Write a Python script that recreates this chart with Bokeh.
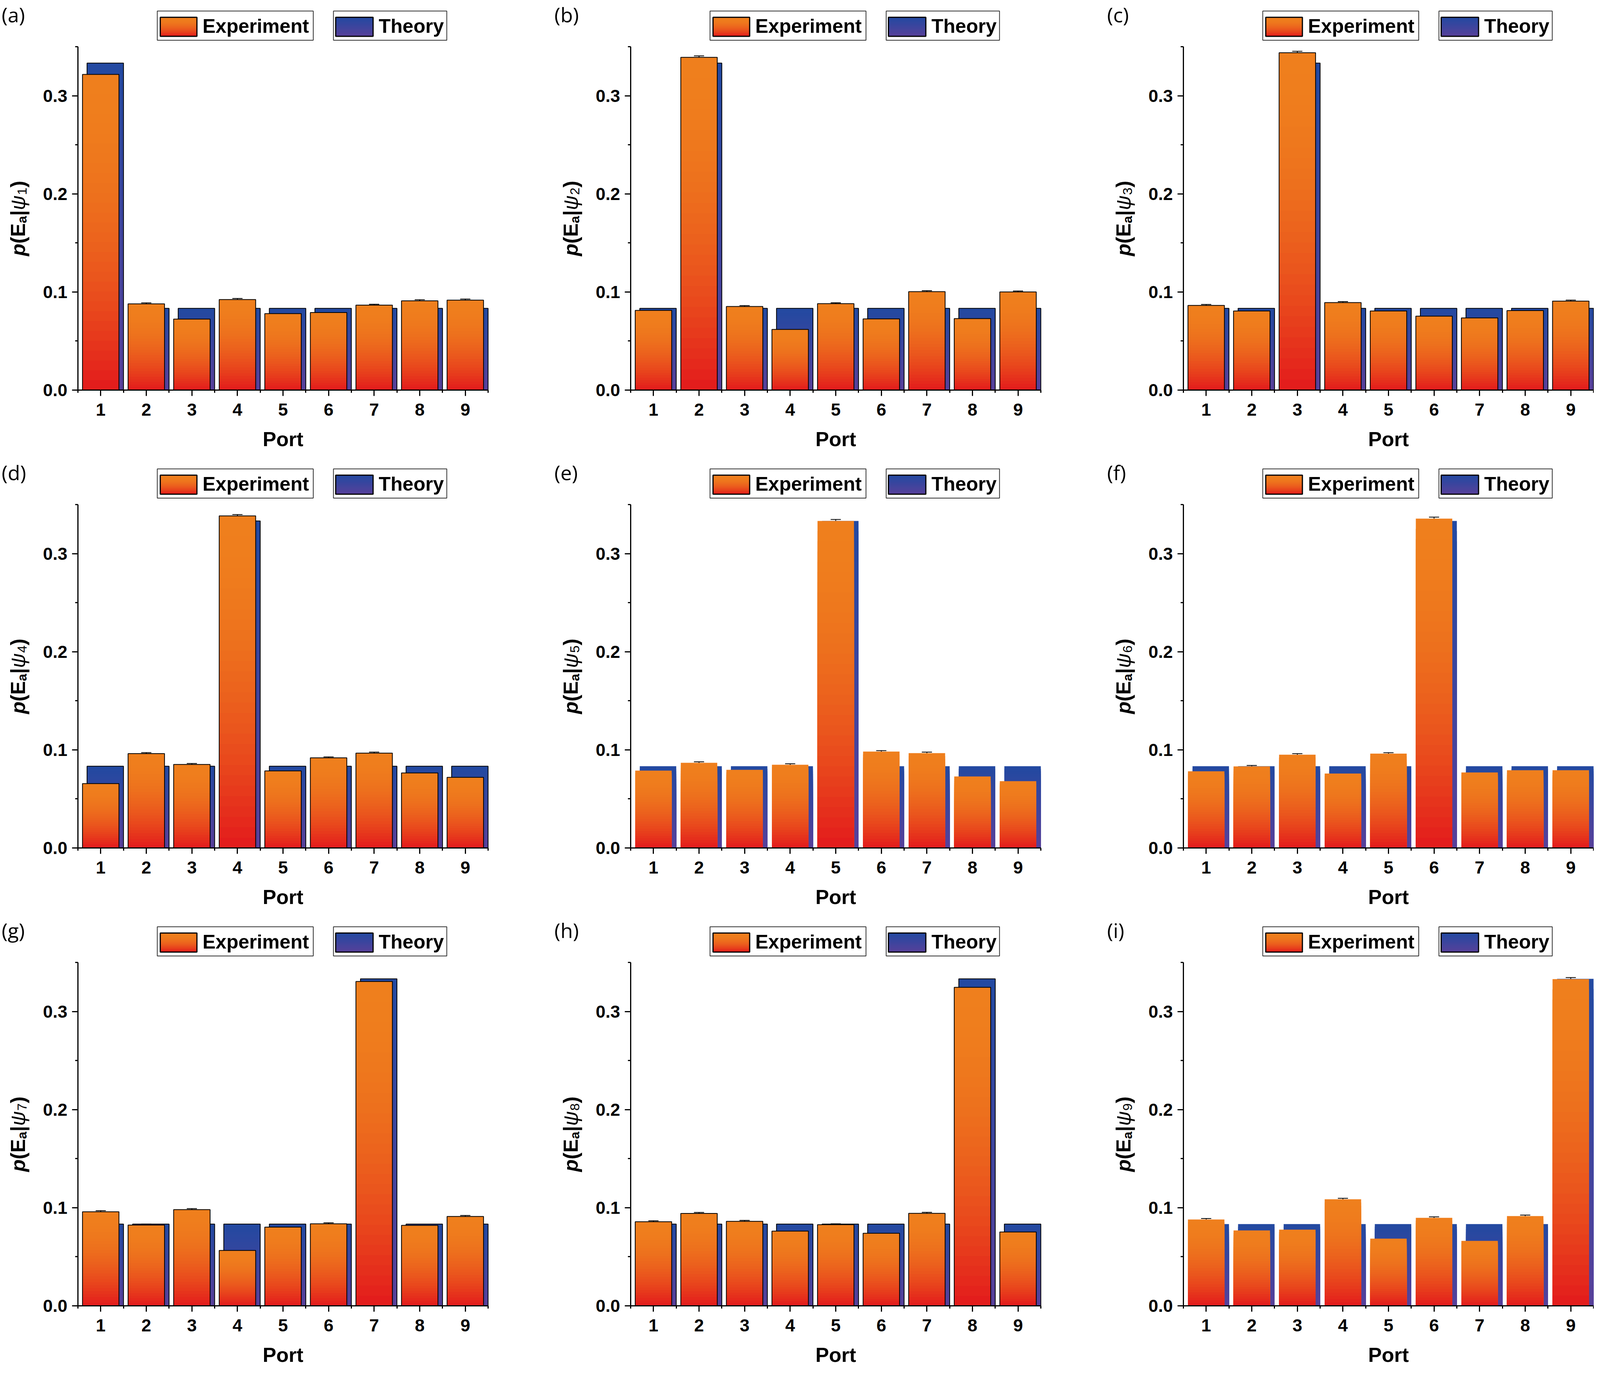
import numpy as np
from bokeh.plotting import figure
from bokeh.models import (Range1d, FixedTicker, NumeralTickFormatter, Label,
                          BoxAnnotation, Whisker, TeeHead, ColumnDataSource)
from bokeh.layouts import column, row
from bokeh.embed import file_html
from bokeh.resources import INLINE

# ---------------- data ----------------
ports = ["1", "2", "3", "4", "5", "6", "7", "8", "9"]
y_ticks = [0.0, 0.1, 0.2, 0.3]
panel_tags = ["(a)", "(b)", "(c)", "(d)", "(e)", "(f)", "(g)", "(h)", "(i)"]
state_index = ["1", "2", "3", "4", "5", "6", "7", "8", "9"]
legend_labels = ["Experiment", "Theory"]
x_title = "Port"

exp_a = [0.3217, 0.0879, 0.0724, 0.0923, 0.0779, 0.0790, 0.0866, 0.0910, 0.0917]
exp_b = [0.0812, 0.3391, 0.0852, 0.0618, 0.0881, 0.0726, 0.1003, 0.0729, 0.1000]
exp_c = [0.0863, 0.0806, 0.3438, 0.0892, 0.0806, 0.0754, 0.0736, 0.0810, 0.0907]
exp_d = [0.0656, 0.0962, 0.0851, 0.3385, 0.0785, 0.0919, 0.0967, 0.0765, 0.0720]
exp_e = [0.0788, 0.0868, 0.0796, 0.0848, 0.3333, 0.0983, 0.0967, 0.0729, 0.0681]
exp_f = [0.0781, 0.0831, 0.0951, 0.0759, 0.0962, 0.3357, 0.0769, 0.0792, 0.0792]
exp_g = [0.0959, 0.0823, 0.0981, 0.0564, 0.0802, 0.0836, 0.3306, 0.0820, 0.0911]
exp_h = [0.0857, 0.0942, 0.0861, 0.0762, 0.0827, 0.0740, 0.0943, 0.3246, 0.0753]
exp_i = [0.0880, 0.0768, 0.0776, 0.1086, 0.0685, 0.0897, 0.0662, 0.0915, 0.3330]

err_a = [0.0016, 0.0010, 0.0010, 0.0011, 0.0010, 0.0010, 0.0009, 0.0011, 0.0011]
err_b = [0.0010, 0.0015, 0.0009, 0.0010, 0.0009, 0.0009, 0.0010, 0.0009, 0.0010]
err_c = [0.0010, 0.0010, 0.0015, 0.0010, 0.0009, 0.0010, 0.0009, 0.0009, 0.0010]
err_d = [0.0010, 0.0010, 0.0010, 0.0013, 0.0010, 0.0009, 0.0010, 0.0010, 0.0010]
err_e = [0.0010, 0.0010, 0.0009, 0.0010, 0.0015, 0.0009, 0.0010, 0.0010, 0.0010]
err_f = [0.0010, 0.0010, 0.0010, 0.0010, 0.0009, 0.0015, 0.0010, 0.0010, 0.0010]
err_g = [0.0011, 0.0010, 0.0010, 0.0010, 0.0010, 0.0010, 0.0013, 0.0010, 0.0010]
err_h = [0.0010, 0.0010, 0.0010, 0.0010, 0.0009, 0.0010, 0.0010, 0.0015, 0.0010]
err_i = [0.0010, 0.0010, 0.0010, 0.0010, 0.0009, 0.0010, 0.0010, 0.0010, 0.0016]

theory_a = [0.3333, 0.0833, 0.0833, 0.0833, 0.0833, 0.0833, 0.0833, 0.0833, 0.0833]
theory_b = [0.0833, 0.3333, 0.0833, 0.0833, 0.0833, 0.0833, 0.0833, 0.0833, 0.0833]
theory_c = [0.0833, 0.0833, 0.3333, 0.0833, 0.0833, 0.0833, 0.0833, 0.0833, 0.0833]
theory_d = [0.0833, 0.0833, 0.0833, 0.3333, 0.0833, 0.0833, 0.0833, 0.0833, 0.0833]
theory_e = [0.0833, 0.0833, 0.0833, 0.0833, 0.3333, 0.0833, 0.0833, 0.0833, 0.0833]
theory_f = [0.0833, 0.0833, 0.0833, 0.0833, 0.0833, 0.3333, 0.0833, 0.0833, 0.0833]
theory_g = [0.0833, 0.0833, 0.0833, 0.0833, 0.0833, 0.0833, 0.3333, 0.0833, 0.0833]
theory_h = [0.0833, 0.0833, 0.0833, 0.0833, 0.0833, 0.0833, 0.0833, 0.3333, 0.0833]
theory_i = [0.0833, 0.0833, 0.0833, 0.0833, 0.0833, 0.0833, 0.0833, 0.0833, 0.3333]

experiments = [exp_a, exp_b, exp_c, exp_d, exp_e, exp_f, exp_g, exp_h, exp_i]
errors = [err_a, err_b, err_c, err_d, err_e, err_f, err_g, err_h, err_i]
theories = [theory_a, theory_b, theory_c, theory_d, theory_e, theory_f, theory_g, theory_h, theory_i]

# ---------------- style / geometry ----------------
outlined = [True, True, True, True, False, False, True, True, False]
EXP_TOP, EXP_BOT = (239, 127, 29), (227, 26, 28)
TH_TOP, TH_BOT = (34, 73, 161), (88, 64, 154)
FONT = "Liberation Sans"
FX, FY = 0.9575, 0.9955           # page scale relative to the reference picture
COL_W = [1415, 1415, 1250]
ROW_H = [1172, 1172, 1157]
LEFT, TOP = round(208 * FX), round(120 * FY)
FW, FH = round(1097 * FX), round(883 * FY)
X0, X1 = 0.5, 9.5
Y0, Y1 = 0.0, 0.35


def mix(cb, ct, w):
    return "#%02x%02x%02x" % tuple(int(round(b + (t - b) * w)) for b, t in zip(cb, ct))


def w_exp(f):
    return 1 - (1 - f) ** 2


def w_th(f):
    return f


def gradient_bars(p, centers, heights, half, cb, ct, wfun, n=32):
    L, R, T, C = [], [], [], []
    for k in range(n):
        frac = 1 - k / n
        col = mix(cb, ct, wfun(frac - 0.5 / n))
        for c, h in zip(centers, heights):
            L.append(c - half); R.append(c + half); T.append(h * frac); C.append(col)
    src = ColumnDataSource(dict(left=L, right=R, top=T, bottom=[0.0] * len(T), color=C))
    p.quad(left="left", right="right", top="top", bottom="bottom",
           fill_color="color", line_color=None, source=src)


def sbox(H, l, r, t, b, **kw):
    # l, r, t, b in reference-panel pixels measured from the panel's top-left corner
    return BoxAnnotation(left=l * FX, right=r * FX, bottom=H - b * FY, top=H - t * FY,
                         left_units="screen", right_units="screen",
                         top_units="screen", bottom_units="screen", **kw)


def swatch(p, H, l, r, t, b, cb, ct, wfun, n=14):
    for k in range(n):
        frac = 1 - k / n
        p.add_layout(sbox(H, l, r, b - (b - t) * frac, b,
                          fill_color=mix(cb, ct, wfun(frac - 0.5 / n)), fill_alpha=1.0,
                          line_color=None))
    p.add_layout(sbox(H, l, r, t, b, fill_alpha=0.0, line_color="black", line_alpha=1.0,
                      line_width=3))


def make_panel(k):
    c, r = k % 3, k // 3
    W, H = COL_W[c], ROW_H[r]
    sx = (X1 - X0) / FW
    sy = (Y1 - Y0) / FH
    xr = Range1d(X0 - LEFT * sx, X1 + (W - LEFT - FW) * sx)
    yr = Range1d(Y0 - (H - TOP - FH) * sy, Y1 + TOP * sy)
    p = figure(width=W, height=H, x_range=xr, y_range=yr,
               output_backend="svg", toolbar_location=None, tools="",
               min_border=0, min_border_left=0, min_border_right=0,
               min_border_top=0, min_border_bottom=0)
    p.xgrid.visible = False
    p.ygrid.visible = False
    p.outline_line_color = None
    p.background_fill_color = "white"
    p.border_fill_color = "white"

    x = np.arange(1, len(ports) + 1, dtype=float)
    exp = np.array(experiments[k])
    th = np.array(theories[k])
    err = np.array(errors[k])

    # theory bars (behind, shifted right)
    gradient_bars(p, x + 0.1, th, 0.4, TH_BOT, TH_TOP, w_th)
    if outlined[k]:
        p.quad(left=x - 0.3, right=x + 0.5, bottom=0, top=th, fill_color=None,
               line_color="black", line_width=2)
    # experiment bars
    gradient_bars(p, x, exp, 0.4, EXP_BOT, EXP_TOP, w_exp)
    if outlined[k]:
        p.quad(left=x - 0.4, right=x + 0.4, bottom=0, top=exp, fill_color=None,
               line_color="black", line_width=2)
    # error bars
    esrc = ColumnDataSource(dict(base=x, upper=exp + err, lower=exp - err))
    p.add_layout(Whisker(source=esrc, base="base", upper="upper", lower="lower",
                         line_color="black", line_width=2,
                         upper_head=TeeHead(size=26, line_width=2, line_color="black"),
                         lower_head=TeeHead(size=26, line_width=2, line_color="black")))

    # axes, pinned at the data origin
    p.xaxis.fixed_location = Y0
    p.yaxis.fixed_location = X0
    p.xaxis.bounds = (X0, X1)
    p.yaxis.bounds = (Y0, Y1)
    p.xaxis.ticker = FixedTicker(ticks=list(x), minor_ticks=list(np.append(x - 0.5, x[-1] + 0.5)))
    p.xaxis.major_label_overrides = {int(v): s for v, s in zip(x, ports)}
    p.yaxis.ticker = FixedTicker(ticks=y_ticks, minor_ticks=[t + 0.05 for t in y_ticks])
    p.yaxis.formatter = NumeralTickFormatter(format="0.0")
    for ax in (p.xaxis[0], p.yaxis[0]):
        ax.axis_line_width = 3
        ax.axis_line_color = "black"
        ax.major_tick_line_width = 3
        ax.minor_tick_line_width = 3
        ax.major_tick_in = 0
        ax.minor_tick_in = 0
        ax.major_tick_out = 15
        ax.minor_tick_out = 7
        ax.major_label_text_font = FONT
        ax.major_label_text_font_style = "bold"
        ax.major_label_text_font_size = "45px"
        ax.major_label_text_color = "black"
    p.xaxis.major_label_standoff = 19
    p.yaxis.major_label_standoff = 12
    p.xaxis.axis_label = x_title
    p.xaxis.axis_label_text_font = FONT
    p.xaxis.axis_label_text_font_style = "bold"
    p.xaxis.axis_label_text_font_size = "52px"
    p.xaxis.axis_label_text_color = "black"
    p.xaxis.axis_label_standoff = 28

    # y-axis title p(E_a | psi_k), composed of runs (screen units from bottom-left)
    runs = [("p", 52, "bold italic", 0, 0.611), ("(", 52, "bold", 0, 0.333),
            ("E", 52, "bold", 0, 0.667), ("a", 34, "bold", 10, 0.556),
            ("|", 52, "bold", 0, 0.280), ("\u03c8", 52, "italic", 0, 0.75),
            (state_index[k], 34, "normal", 10, 0.556), (")", 52, "bold", 0, 0.333)]
    total = sum(sz * wd for _, sz, _, _, wd in runs)
    ypos = (H - (TOP + FH / 2)) - total / 2
    for txt, sz, st, sub, wd in runs:
        p.add_layout(Label(x=48 * FX + sub, y=ypos, x_units="screen", y_units="screen",
                           text=txt, angle=np.pi / 2, text_font=FONT, text_font_style=st,
                           text_font_size=f"{sz}px", text_align="left",
                           text_baseline="alphabetic", text_color="black"))
        ypos += sz * wd

    # panel tag
    p.add_layout(Label(x=4 * FX, y=H - 36 * FY, x_units="screen", y_units="screen",
                       text=panel_tags[k], text_font="Open Sans", text_font_size="52px",
                       text_baseline="middle", text_align="left", text_color="black"))

    # legends
    p.add_layout(sbox(H, 420, 837, 28, 103, fill_color="white", fill_alpha=1.0,
                      line_color="#333333", line_alpha=1.0, line_width=2))
    p.add_layout(sbox(H, 891, 1194, 28, 103, fill_color="white", fill_alpha=1.0,
                      line_color="#333333", line_alpha=1.0, line_width=2))
    swatch(p, H, 428, 526, 44, 93, EXP_BOT, EXP_TOP, w_exp)
    swatch(p, H, 897, 997, 44, 93, TH_BOT, TH_TOP, w_th)
    for txt, xl in zip(legend_labels, (541, 1012)):
        p.add_layout(Label(x=xl * FX, y=H - 67 * FY, x_units="screen", y_units="screen",
                           text=txt, text_font=FONT, text_font_style="bold",
                           text_font_size="50px", text_baseline="middle", text_align="left",
                           text_color="black"))
    return p


panels = [make_panel(k) for k in range(9)]
layout = column(row(*panels[0:3]), row(*panels[3:6]), row(*panels[6:9]))

open("out.html", "w").write(file_html(layout, INLINE))
